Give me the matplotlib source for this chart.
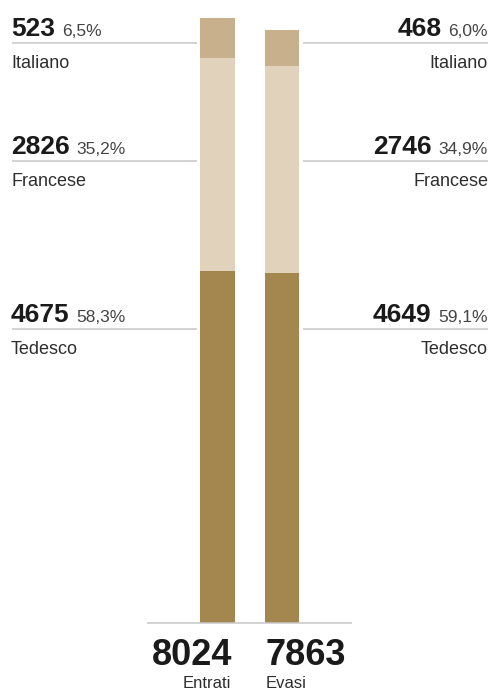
import matplotlib
matplotlib.use('Agg')
import matplotlib.pyplot as plt

plt.rcParams['font.family'] = ['Liberation Sans', 'DejaVu Sans']

categories = ['Tedesco', 'Francese', 'Italiano']
entrati = [4675, 2826, 523]
evasi = [4649, 2746, 468]
pct_entrati = ['58,3%', '35,2%', '6,5%']
pct_evasi = ['59,1%', '34,9%', '6,0%']
bar_names = ['Entrati', 'Evasi']
colors = ['#a4864f', '#e1d3bb', '#c8b08c']

W, H = 490, 691
fig = plt.figure(figsize=(W / 100, H / 100), dpi=100)

# axes in pixel-like x units, data units on y
base_px = 623
scale = 604.7 / 8024
ax = fig.add_axes([0, 0, 1, 1])
ax.set_xlim(0, W)
ax.set_ylim(-(H - base_px) / scale, base_px / scale)
ax.axis('off')

xs = [217.5, 282]
bw = 34.5
for x, vals in zip(xs, [entrati, evasi]):
    bottom = 0
    for v, c in zip(vals, colors):
        ax.bar(x, v, width=bw, bottom=bottom, color=c, linewidth=0)
        bottom += v

def py(y):
    # pixel from top -> data y
    return (base_px - y) / scale

# baseline
ax.plot([147, 352], [0, 0], color='#c8c8c8', lw=1.1, solid_capstyle='butt')

label_lines = [329.3, 160.7, 42.7]
fig.canvas.draw()
rend = fig.canvas.get_renderer()

def px_width(t):
    bb = t.get_window_extent(renderer=rend)
    return bb.width

num_kw = dict(fontsize=19, fontweight='bold', color='#1a1a1a', va='baseline')
pct_kw = dict(fontsize=12.5, color='#444444', va='baseline')
cat_kw = dict(fontsize=13, color='#2e2e2e', va='baseline')

for i, ly in enumerate(label_lines):
    # left side (Entrati)
    ax.plot([12, 197], [py(ly), py(ly)], color='#c8c8c8', lw=1.1, solid_capstyle='butt')
    t = ax.text(11, py(ly - 7), str(entrati[i]), ha='left', **num_kw)
    w = px_width(t)
    ax.text(11 + w + 7, py(ly - 7), pct_entrati[i], ha='left', **pct_kw)
    ax.text(11, py(ly + 25), categories[i], ha='left', **cat_kw)

    # right side (Evasi)
    ax.plot([303, 488], [py(ly), py(ly)], color='#c8c8c8', lw=1.1, solid_capstyle='butt')
    t = ax.text(488, py(ly - 7), pct_evasi[i], ha='right', **pct_kw)
    w = px_width(t)
    ax.text(488 - w - 7, py(ly - 7), str(evasi[i]), ha='right', **num_kw)
    ax.text(488, py(ly + 25), categories[i], ha='right', **cat_kw)

tot_kw = dict(fontsize=26, fontweight='bold', color='#1a1a1a', va='baseline')
ax.text(232, py(665), str(sum(entrati)), ha='right', **tot_kw)
ax.text(265, py(665), str(sum(evasi)), ha='left', **tot_kw)
ax.text(231, py(688), bar_names[0], ha='right', fontsize=12, color='#2e2e2e', va='baseline')
ax.text(266, py(688), bar_names[1], ha='left', fontsize=12, color='#2e2e2e', va='baseline')

fig.savefig('out.png', dpi=100)
